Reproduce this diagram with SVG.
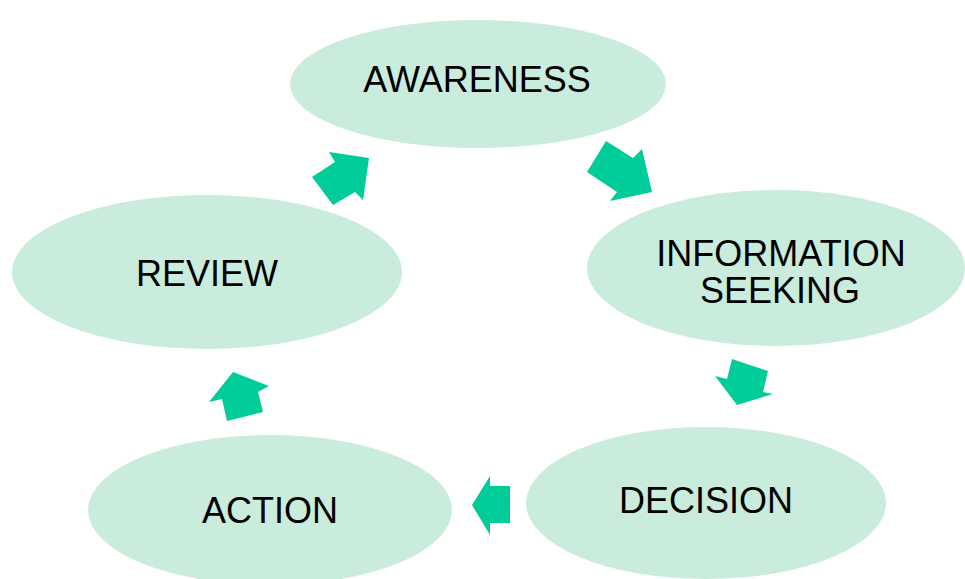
<svg xmlns="http://www.w3.org/2000/svg" width="965" height="579" viewBox="0 0 965 579">
<style>
.node{fill:#c9ecdc;}
.lbl{font-family:"Liberation Sans",Arial,sans-serif;font-size:36px;fill:#000;text-anchor:middle;}
.arr{fill:#00cc99;}
</style>
<rect width="965" height="579" fill="#ffffff"/>
<g id="awareness"><ellipse class="node" cx="478" cy="84" rx="188" ry="64"/><text class="lbl" x="477" y="92">AWARENESS</text></g>
<g id="information-seeking"><ellipse class="node" cx="776" cy="268" rx="189" ry="78"/><text class="lbl" x="781" y="266">INFORMATION</text><text class="lbl" x="780" y="303">SEEKING</text></g>
<g id="decision"><ellipse class="node" cx="706" cy="503" rx="180" ry="76"/><text class="lbl" x="706" y="513">DECISION</text></g>
<g id="action"><ellipse class="node" cx="270" cy="510" rx="182" ry="75"/><text class="lbl" x="270" y="523">ACTION</text></g>
<g id="review"><ellipse class="node" cx="207" cy="272" rx="195" ry="77"/><text class="lbl" x="207" y="286">REVIEW</text></g>
<g id="connectors">
<polygon class="arr" points="329,152 335,162 312,177 333,205 355,192 363,200 369,158"/>
<polygon class="arr" points="606,141 633,158 642,149 652,192 610,201 617,192 587,172"/>
<polygon class="arr" points="732,359 768,371 763,392 773,394 737,405 715,376 727,379"/>
<polygon class="arr" points="472,505 490,476 490,486 510,486 510,523 490,523 490,535"/>
<polygon class="arr" points="233,372 269,386 258,392 263,412 227,421 222,399 209,402"/>
</g>
</svg>
